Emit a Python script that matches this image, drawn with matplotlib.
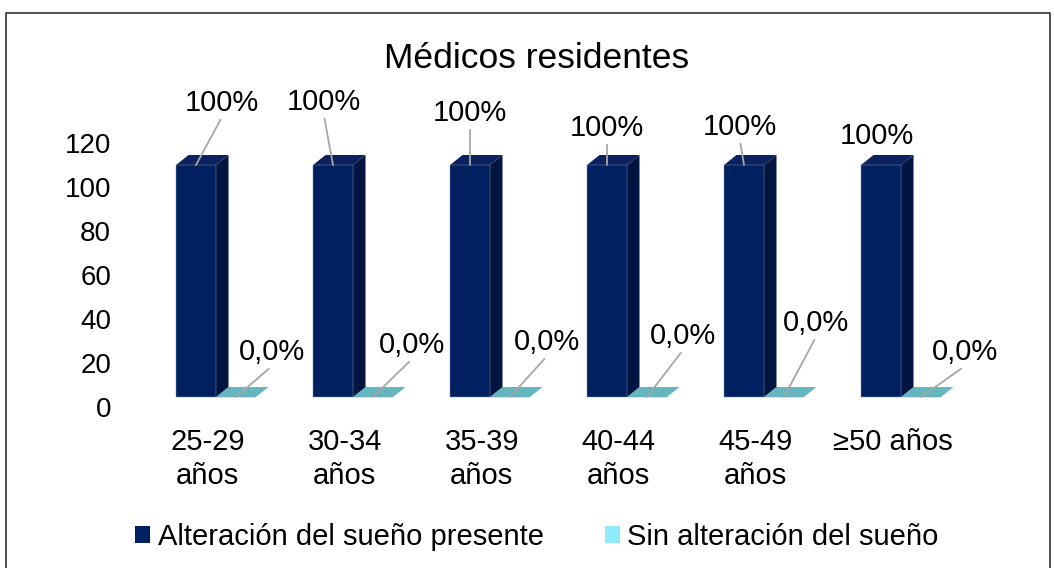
import matplotlib
matplotlib.use("Agg")
import matplotlib.pyplot as plt
from matplotlib.patches import Polygon, Patch
from matplotlib.lines import Line2D

# ---- data ----
categories = ["25-29\naños", "30-34\naños", "35-39\naños", "40-44\naños", "45-49\naños", "≥50 años"]
series_names = ["Alteración del sueño presente", "Sin alteración del sueño"]
alteracion = [100, 100, 100, 100, 100, 100]
sin_alteracion = [0.0, 0.0, 0.0, 0.0, 0.0, 0.0]
y_ticks = [0, 20, 40, 60, 80, 100, 120]
title = "Médicos residentes"

# ---- styling ----
plt.rcParams["font.family"] = ["Liberation Sans", "DejaVu Sans"]
W, H = 1054, 568
fig = plt.figure(figsize=(W / 100, H / 100), dpi=100)


def fx(px):
    return px / W


def fy(py):
    return 1 - py / H


# plot area (pixels) and scales
L, R, T, B = 125, 1000, 120, 420
X0, XSTEP = 216, 137          # pixel of category 0 / spacing
Y0_BAR, YS_BAR = 397, 2.32     # bars: baseline pixel, px per unit
Y0_LAB, YS_LAB = 407, 2.20     # value-axis labels (back wall)

ax = fig.add_axes([fx(L), fy(B), fx(R) - fx(L), fy(T) - fy(B)])
ax.set_xlim((L - X0) / XSTEP, (R - X0) / XSTEP)
ax.set_ylim((Y0_BAR - B) / YS_BAR, (Y0_BAR - T) / YS_BAR)
for s in ax.spines.values():
    s.set_visible(False)
ax.set_yticks([])

bw = 40 / XSTEP           # bar width in category units
ddx = 12.5 / XSTEP        # depth offset (x)
ddy = 10 / YS_BAR         # depth offset (y)

blue = dict(front="#002060", top="#0c225e", side="#001540")
cyan = dict(front="#8EEAF9", top="#64b7bf", side="#4a9aa3")
legend_colors = ["#002060", "#8EEAF9"]


def bar3d(x0, v, col):
    front = Polygon([(x0, 0), (x0 + bw, 0), (x0 + bw, v), (x0, v)], closed=True,
                    fc=col["front"], ec="#7f8cab", lw=0.35, zorder=3)
    top = Polygon([(x0, v), (x0 + bw, v), (x0 + bw + ddx, v + ddy), (x0 + ddx, v + ddy)],
                  closed=True, fc=col["top"], ec="none", zorder=3)
    side = Polygon([(x0 + bw, 0), (x0 + bw + ddx, ddy), (x0 + bw + ddx, v + ddy), (x0 + bw, v)],
                   closed=True, fc=col["side"], ec="none", zorder=3)
    for p in (side, top, front):
        ax.add_patch(p)


for i in range(len(categories)):
    bar3d(i, sin_alteracion[i], cyan)
    bar3d(i - bw, alteracion[i], blue)

# category labels
ax.set_xticks([i - 0.06 for i in range(len(categories))])
ax.set_xticklabels(categories, fontsize=21, linespacing=1.27)
ax.tick_params(axis="x", length=0, pad=6)

# value axis labels
axl = ax.twinx()
axl.yaxis.tick_left()
axl.set_ylim((Y0_LAB - B) / YS_LAB, (Y0_LAB - T) / YS_LAB)
axl.set_yticks(y_ticks)
axl.set_yticklabels([str(t) for t in y_ticks], fontsize=20)
axl.tick_params(axis="y", length=0, pad=10)
for s in axl.spines.values():
    s.set_visible(False)

# data labels with leader lines (offsets in pixels, screen y downward)
blue_off = [(26, -62), (-9, -63), (0, -52), (0, -37), (-4, -38), (-4, -29)]
blue_leader = [True, True, True, True, True, False]
cyan_off = [(36, -45), (39, -52), (37, -55), (36, -61), (32, -74), (44, -45)]

leader = dict(arrowstyle="-", color="#a6a6a6", lw=1.3, shrinkA=0, shrinkB=0, relpos=(0.5, 0))

for i in range(len(categories)):
    v = alteracion[i]
    dx, dy = blue_off[i]
    ax.annotate(f"{v:.0f}%", xy=(i - bw / 2, v), xytext=(dx, -dy), textcoords="offset pixels",
                ha="center", va="center", fontsize=21, zorder=5,
                arrowprops=leader if blue_leader[i] else None)
    v2 = sin_alteracion[i]
    dx, dy = cyan_off[i]
    ax.annotate(f"{v2:.1f}%".replace(".", ","), xy=(i + bw / 2, v2), xytext=(dx, -dy),
                textcoords="offset pixels", ha="center", va="center", fontsize=21, zorder=5,
                arrowprops=leader)

# title
fig.text(fx(537), fy(58), title, ha="center", va="center", fontsize=25.5)

# legend
handles = [Patch(fc=c, ec="none") for c in legend_colors]
fig.legend(handles, series_names, loc="center", bbox_to_anchor=(fx(537), fy(537)), ncol=2,
           frameon=False, fontsize=21, handlelength=0.52, handleheight=0.52,
           handletextpad=0.25, columnspacing=2.1)

# chart border
fig.add_artist(Line2D([fx(6), fx(6), fx(1050), fx(1050)], [fy(575), fy(13), fy(13), fy(575)],
                      color="#222222", lw=1.1, clip_on=False))

fig.savefig("out.png", dpi=100)
